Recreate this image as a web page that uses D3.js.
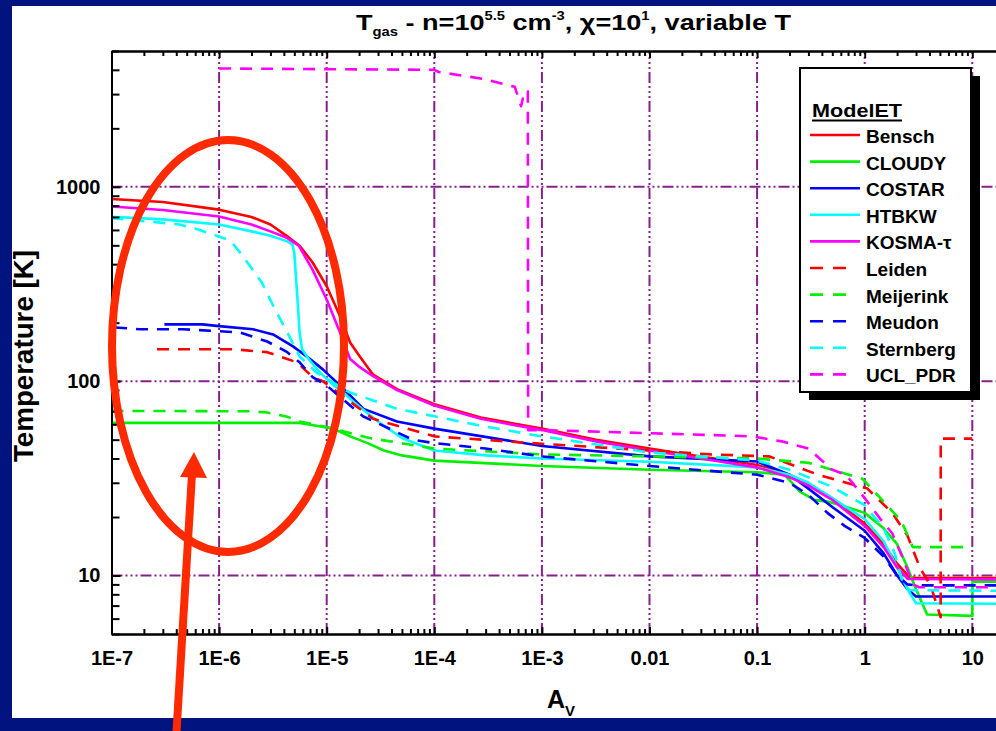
<!DOCTYPE html>
<html>
<head>
<meta charset="utf-8">
<script src="https://cdn.jsdelivr.net/npm/d3@7"></script>
<style>
  html, body { margin: 0; padding: 0; background: #00137e; }
  svg { display: block; }
  text { font-family: "Liberation Sans", Arial, Helvetica, sans-serif; font-weight: bold; fill: #000; }
</style>
</head>
<body>
<svg id="chart" width="996" height="731"></svg>
<script>
// ---- Gas temperature profiles, n = 10^5.5 cm^-3, chi = 10, variable T ----
// Each series: [A_V, T_gas (K)]

const bensch = [[1e-7,865],[3e-7,835],[1e-6,763],[2e-6,700],[3e-6,640],[4.3e-6,556],[5.6e-6,498],[7.4e-6,408],[1e-5,308],[1.33e-5,216],[1.65e-5,158],[2.03e-5,134],[2.7e-5,108],[4.5e-5,91],[1e-4,76],[2.7e-4,65],[1e-3,57],[3.2e-3,50],[0.01,45],[0.03,41],[0.1,37],[0.2,33],[0.3,29.5],[0.5,25],[1,18.5],[1.5,14.5],[2,11.5],[2.6,9.8],[3,9.7],[100,9.7]];

const cloudy = [[1e-7,61],[5.6e-6,61],[8e-6,59],[1.15e-5,57],[1.65e-5,52],[2.4e-5,48],[3.4e-5,44],[5e-5,41.5],[1e-4,39],[1e-3,36.6],[0.01,35],[0.1,34],[0.18,33],[0.25,27],[0.34,24.5],[0.45,24],[0.6,23],[1,21],[1.5,17.5],[2,14.5],[2.5,11],[3,8.5],[3.8,6.3],[10,6.2],[10.05,9.3],[100,9.3]];

const costar = [[3.1e-7,196],[7e-7,196],[1e-6,192],[2.07e-6,185],[3.17e-6,174],[4.86e-6,151],[7e-6,130],[9.2e-6,115],[1.33e-5,95],[2.2e-5,72],[4.5e-5,62],[1e-4,57],[1e-3,46.4],[0.01,41],[0.1,38.6],[0.2,33],[0.3,28],[0.5,22.5],[1,17],[1.5,13],[2,10],[2.5,8.5],[3,7.8],[100,7.8]];

const htbkw = [[1e-7,701],[3e-7,680],[1e-6,640],[2e-6,590],[3e-6,560],[4.3e-6,524],[4.8e-6,505],[5.0e-6,458],[5.3e-6,286],[5.6e-6,178],[5.9e-6,146],[6.8e-6,130],[8.5e-6,112],[1.05e-5,100],[1.5e-5,85],[2e-5,74],[3e-5,62],[5e-5,51],[1e-4,44],[3e-4,41.5],[1e-3,40],[0.01,38.5],[0.1,36],[0.2,33],[0.3,30],[0.5,25],[1,19.5],[1.5,15],[2,11],[2.5,8.5],[3,7.2],[100,7.1]];

const kosma = [[1e-7,792],[3e-7,760],[1e-6,704],[2e-6,640],[3e-6,590],[4.3e-6,545],[5.5e-6,498],[7.4e-6,374],[1e-5,263],[1.33e-5,178],[1.65e-5,130],[2.03e-5,118],[2.7e-5,106],[4.5e-5,90],[1e-4,75],[2.7e-4,64],[1e-3,56],[3.2e-3,49],[0.01,44],[0.03,40],[0.1,36],[0.2,32],[0.3,29],[0.5,24.5],[1,18],[1.5,14],[2,11],[2.5,9.6],[100,9.5]];

const leiden = [[2.65e-7,146],[1.35e-6,146],[2.8e-6,141],[4.3e-6,130],[5.3e-6,125],[7.4e-6,105],[9.2e-6,100],[2.7e-5,64],[1e-4,52],[1e-3,47.6],[0.01,44],[0.037,42],[0.13,41],[0.37,33],[1.06,28],[1.8,21],[2.5,16],[3.3,10.8],[4.1,8.9],[5.08,6.1],[5.09,50.6],[10,50.6]];

const meijerink = [[1e-7,70.3],[1.95e-6,70],[2.8e-6,69],[4.3e-6,65.6],[5.6e-6,62],[1e-5,58],[2.5e-5,51],[1e-4,45],[1e-3,42],[0.01,41],[0.1,40],[0.3,38],[0.95,31.5],[1.4,25],[2.2,19],[2.8,14],[10,14]];

const meudon = [[1.08e-7,189],[1.84e-7,185],[4.6e-7,185],[9.5e-7,181],[1.56e-6,178],[2.8e-6,160],[4.3e-6,141],[5.6e-6,125],[7.4e-6,105],[1e-5,95],[2.17e-5,66],[6.3e-5,50],[1e-4,48],[3e-4,45],[1e-3,41],[0.01,36.6],[0.1,33],[0.2,30],[0.3,26],[0.45,21],[0.65,18],[1,15.6],[1.5,12.5],[2,10],[2.5,9],[3,8.9],[100,8.9]];

const sternberg = [[1e-7,690],[4.3e-7,640],[6.6e-7,600],[1.27e-6,530],[1.67e-6,439],[2.5e-6,321],[3.2e-6,243],[4.5e-6,170],[5.6e-6,134],[8e-6,111],[1.6e-5,88],[4.5e-5,72],[1e-4,66],[2.7e-4,59],[1e-3,52],[0.01,43],[0.1,39],[0.2,35],[0.47,29],[1,23],[1.5,17.5],[1.9,13],[2.2,9.6],[2.6,8.4],[100,8.3]];

const uclPdr = [[1e-6,4065],[1e-4,4000],[1.1e-4,3900],[2.8e-4,3600],[5.6e-4,3270],[6.4e-4,2600],[6.9e-4,3100],[7.4e-4,3100],[7.45e-4,56],[1e-3,56],[0.01,54],[0.09,52],[0.17,49],[0.3,45],[0.5,35],[0.67,33],[1,25],[1.4,19.5],[1.8,16.5],[2.3,12],[2.8,9],[3.2,8.7],[100,8.7]];

const modelNames  = ["Bensch","CLOUDY","COSTAR","HTBKW","KOSMA-τ","Leiden","Meijerink","Meudon","Sternberg","UCL_PDR"];
const modelSeries = [bensch, cloudy, costar, htbkw, kosma, leiden, meijerink, meudon, sternberg, uclPdr];
const modelColors = ["#ff0000","#00f000","#0000ff","#00ffff","#ff00ff","#ff0000","#00f000","#0000ff","#00ffff","#ff00ff"];
const modelDashed = [false,false,false,false,false,true,true,true,true,true];

const xTickValues = [1e-7,1e-6,1e-5,1e-4,1e-3,0.01,0.1,1,10];
const xTickLabels = ["1E-7","1E-6","1E-5","1E-4","1E-3","0.01","0.1","1","10"];
const yTickValues = [10,100,1000];
const yTickLabels = ["10","100","1000"];

// ---- layout ----
const svg = d3.select("#chart");
const W = 996, H = 731;

// white slide panel on the dark blue background
svg.append("rect").attr("x", 12).attr("y", 6).attr("width", W - 12).attr("height", 712).attr("fill", "#fff");

const x = d3.scaleLog().domain([1e-7, 100]).range([111.5, 111.5 + 9 * 107.6]);
const y = d3.scaleLog().domain([5, 5000]).range([634, 51]);
const [x0, x1] = x.range();
const [yb, yt] = y.range();

// minor tick positions (2..9 in every decade)
const xMinor = [];
for (let e = -7; e <= 1; e++) for (let m = 2; m <= 9; m++) xMinor.push(m * Math.pow(10, e));
const yMinor = [];
for (let e = 0; e <= 3; e++) for (let m = 1; m <= 9; m++) { const v = m * Math.pow(10, e); if (v >= 5 && v <= 5000 && m !== 1) yMinor.push(v); }

// ---- grid (purple dash-dot-dot-dot) ----
const grid = svg.append("g").attr("stroke", "#86208a").attr("stroke-width", 2)
  .attr("stroke-dasharray", "11,3,2,3,2,3,2,3").attr("fill", "none");
grid.selectAll("line.gx").data(xTickValues.slice(1).concat([100])).join("line")
  .attr("x1", d => x(d)).attr("x2", d => x(d)).attr("y1", yb).attr("y2", yt);
grid.selectAll("line.gy").data(yTickValues).join("line").attr("class", "gy")
  .attr("x1", x0).attr("x2", x1).attr("y1", d => y(d)).attr("y2", d => y(d));

// ---- curves ----
svg.append("clipPath").attr("id", "plotClip").append("rect")
  .attr("x", x0).attr("y", yt).attr("width", x1 - x0).attr("height", yb - yt);

const line = d3.line().x(d => x(d[0])).y(d => y(d[1]));
const curves = svg.append("g").attr("clip-path", "url(#plotClip)");
modelSeries.forEach((s, i) => {
  curves.append("path").datum(s)
    .attr("d", line)
    .attr("fill", "none")
    .attr("stroke", modelColors[i])
    .attr("stroke-width", 2.6)
    .attr("stroke-linejoin", "round")
    .attr("stroke-dasharray", modelDashed[i] ? "12,9" : null);
});

// ---- axes ----
function styleAxis(g) {
  g.selectAll("path.domain").attr("stroke", "#000").attr("stroke-width", 2);
  g.selectAll(".tick line").attr("stroke", "#000").attr("stroke-width", 2);
  g.selectAll("text").attr("font-size", 20).attr("font-family", "Liberation Sans, Arial, sans-serif").attr("font-weight", "bold").attr("fill", "#000");
}

// bottom
svg.append("g").attr("transform", `translate(0,${yb})`)
  .call(d3.axisBottom(x).tickValues(xMinor).tickFormat("").tickSizeInner(-5).tickSizeOuter(0))
  .call(styleAxis);
svg.append("g").attr("transform", `translate(0,${yb})`)
  .call(d3.axisBottom(x).tickValues(xTickValues).tickFormat((d, i) => xTickLabels[i]).tickSizeInner(-7).tickSizeOuter(0).tickPadding(17))
  .call(styleAxis);
// top
svg.append("g").attr("transform", `translate(0,${yt})`)
  .call(d3.axisTop(x).tickValues(xMinor).tickFormat("").tickSizeInner(-5).tickSizeOuter(0))
  .call(styleAxis);
svg.append("g").attr("transform", `translate(0,${yt})`)
  .call(d3.axisTop(x).tickValues(xTickValues).tickFormat("").tickSizeInner(-7).tickSizeOuter(0))
  .call(styleAxis);
// left
svg.append("g").attr("transform", `translate(${x0},0)`)
  .call(d3.axisLeft(y).tickValues(yMinor).tickFormat("").tickSizeInner(-8).tickSizeOuter(0))
  .call(styleAxis);
svg.append("g").attr("transform", `translate(${x0},0)`)
  .call(d3.axisLeft(y).tickValues(yTickValues).tickFormat((d, i) => yTickLabels[i]).tickSizeInner(-9).tickSizeOuter(0).tickPadding(11))
  .call(styleAxis);

// ---- titles ----
const title = svg.append("text").attr("x", 356).attr("y", 30).attr("font-size", 22)
  .attr("textLength", 435).attr("lengthAdjust", "spacingAndGlyphs");
title.append("tspan").text("T");
title.append("tspan").attr("font-size", 12).attr("dy", 6).text("gas");
title.append("tspan").attr("dy", -6).text(" - n=10");
title.append("tspan").attr("font-size", 12).attr("dy", -10).text("5.5");
title.append("tspan").attr("dy", 10).text(" cm");
title.append("tspan").attr("font-size", 12).attr("dy", -10).text("-3");
title.append("tspan").attr("dy", 10).text(", χ=10");
title.append("tspan").attr("font-size", 12).attr("dy", -10).text("1");
title.append("tspan").attr("dy", 10).text(", variable T");

svg.append("text")
  .attr("transform", "translate(33,356) rotate(-90)")
  .attr("text-anchor", "middle").attr("font-size", 27)
  .attr("textLength", 212).attr("lengthAdjust", "spacingAndGlyphs")
  .text("Temperature [K]");

const xl = svg.append("text").attr("x", 547).attr("y", 708).attr("font-size", 25);
xl.append("tspan").text("A");
xl.append("tspan").attr("font-size", 15).attr("dy", 8).text("V");

// ---- legend ----
const lg = svg.append("g");
lg.append("rect").attr("x", 809).attr("y", 76).attr("width", 171).attr("height", 324).attr("fill", "#000");
lg.append("rect").attr("x", 800).attr("y", 68).attr("width", 171).attr("height", 324)
  .attr("fill", "#fff").attr("stroke", "#000").attr("stroke-width", 2);
lg.append("text").attr("x", 812).attr("y", 117).attr("font-size", 18)
  .attr("textLength", 90).attr("lengthAdjust", "spacingAndGlyphs").text("ModelET");
lg.append("line").attr("x1", 812).attr("x2", 902).attr("y1", 120.5).attr("y2", 120.5)
  .attr("stroke", "#000").attr("stroke-width", 2);

modelNames.forEach((name, i) => {
  const by = 143 + i * 26.6;
  lg.append("line").attr("x1", 810).attr("x2", modelDashed[i] ? 848 : 860)
    .attr("y1", by - 8).attr("y2", by - 8)
    .attr("stroke", modelColors[i]).attr("stroke-width", 2.6)
    .attr("stroke-dasharray", modelDashed[i] ? "13,10" : null);
  lg.append("text").attr("x", 866).attr("y", by).attr("font-size", 19).text(name);
});

// ---- highlight annotation: ellipse and arrow ----
const red = "#ff2a00";
svg.append("ellipse").attr("cx", 228).attr("cy", 346).attr("rx", 116).attr("ry", 206)
  .attr("fill", "none").attr("stroke", red).attr("stroke-width", 8);
svg.append("line").attr("x1", 176).attr("y1", 740).attr("x2", 192).attr("y2", 474)
  .attr("stroke", red).attr("stroke-width", 8);
svg.append("path").attr("d", "M194,452 L207,478 L180,477 Z").attr("fill", red);
</script>
</body>
</html>
